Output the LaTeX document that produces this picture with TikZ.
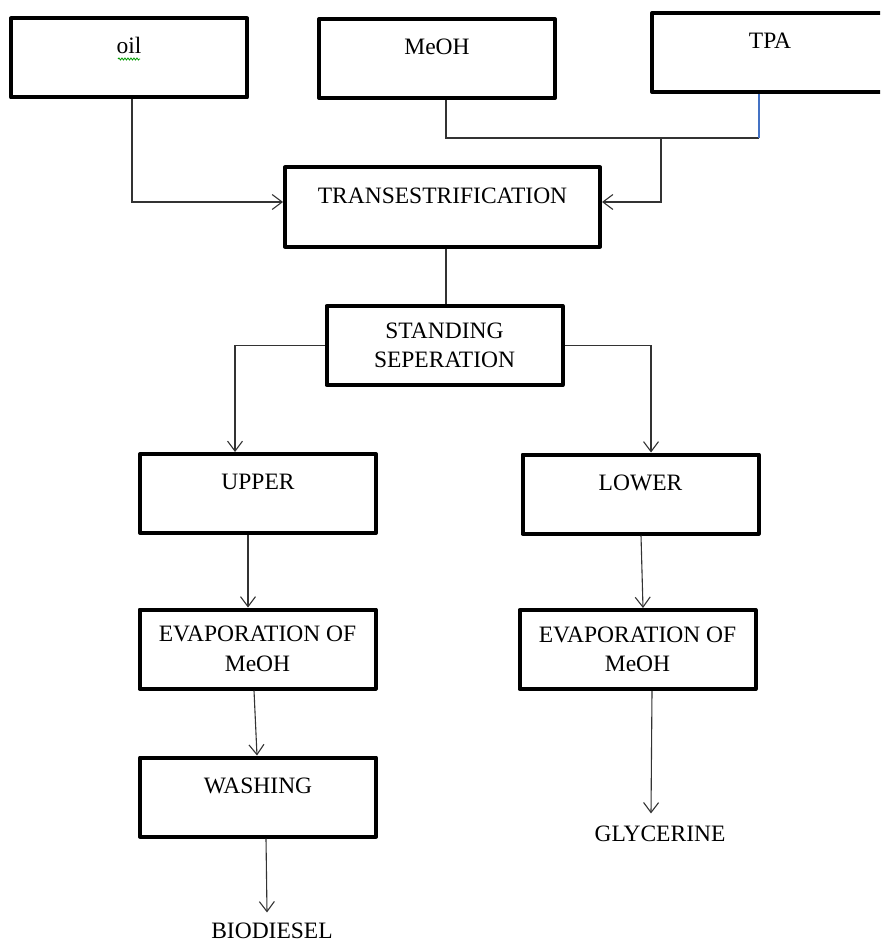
\documentclass[tikz,border=0pt]{standalone}
\usepackage{fontspec}
\setmainfont{Liberation Serif}
\usetikzlibrary{arrows.meta,decorations.pathmorphing}
\begin{document}
\begin{tikzpicture}[x=1pt, y=-1pt,
    box/.style={rectangle, draw, line width=4pt, line join=round, inner sep=0pt, minimum width=236pt, minimum height=79pt, align=center, font=\fontsize{23.5}{29.5}\selectfont},
    onebox/.style={box, text height=16pt, text depth=24pt},
    product/.style={inner sep=0pt, outer sep=10pt, font=\fontsize{23.5}{29.5}\selectfont},
    line/.style={draw=black!80, line width=1.1pt},
    arrow/.style={line, -{Straight Barb[length=10pt, width=15pt]}},
    squiggle/.style={draw=green!60!black, line width=0.8pt, decorate, decoration={snake, amplitude=1pt, segment length=3pt}}
  ]
  \useasboundingbox (0,0) rectangle (880,944);
  \clip (0,0) rectangle (880,944);

  % Feed stocks
  \node[onebox] (oil) at (129,58) {oil};
  \node[onebox] (meoh) at (437,58.5) {MeOH};
  \node[onebox] (tpa) at (770,52.5) {TPA};
  \draw[squiggle] ([xshift=-11pt,yshift=-1pt]oil.center) -- ([xshift=11pt,yshift=-1pt]oil.center);

  % Reaction and separation
  \node[onebox, minimum width=315pt] (trans) at (442.5,207) {TRANSESTRIFICATION};
  \node[box] (stand) at (444.5,345.5) {STANDING\\SEPERATION};

  % The two layers
  \node[onebox] (upper) at (258,493.5) {UPPER};
  \node[onebox] (lower) at (640.5,494) {LOWER};
  \node[box] (evapL) at (257.5,649) {EVAPORATION OF\\MeOH};
  \node[box] (evapR) at (637.5,649.5) {EVAPORATION OF\\MeOH};
  \node[onebox] (wash) at (258,797) {WASHING};

  % Products
  \node[product, anchor=base] (bio) at (272,938) {BIODIESEL};
  \node[product, anchor=base, outer sep=12pt] (gly) at (660,841) {GLYCERINE};

  % Feed lines
  \coordinate (mix) at (661,138);
  \draw[arrow] ([xshift=3pt]oil.south) |- ([yshift=5pt]trans.west);
  \draw[line] ([xshift=9pt]meoh.south) |- ([xshift=-11pt]tpa.south |- mix);
  \draw[line, draw={rgb,255:red,68;green,114;blue,196}] ([xshift=-11pt]tpa.south) -- ([xshift=-11pt]tpa.south |- mix);
  \draw[arrow] (mix) |- ([yshift=5pt]trans.east);

  % Separation
  \draw[line] ([xshift=3.5pt]trans.south) -- ([xshift=3.5pt]trans.south |- stand.north);
  \draw[arrow] (stand.west) -| ([xshift=-23pt]upper.north);
  \draw[arrow] (stand.east) -| ([xshift=10.5pt]lower.north);

  % Work up
  \draw[arrow] ([xshift=-10pt]upper.south) -- ([xshift=-10pt]upper.south |- evapL.north);
  \draw[arrow] ([xshift=0.5pt]lower.south) -- ([xshift=5.5pt]evapR.north);
  \draw[arrow] ([xshift=-3.5pt]evapL.south) -- ([xshift=-1pt]wash.north);
  \draw[arrow] ([xshift=8pt]wash.south) -- ([xshift=-5pt]bio.north);
  \draw[arrow] ([xshift=14.5pt]evapR.south) -- ([xshift=-9pt]gly.north);
\end{tikzpicture}
\end{document}
